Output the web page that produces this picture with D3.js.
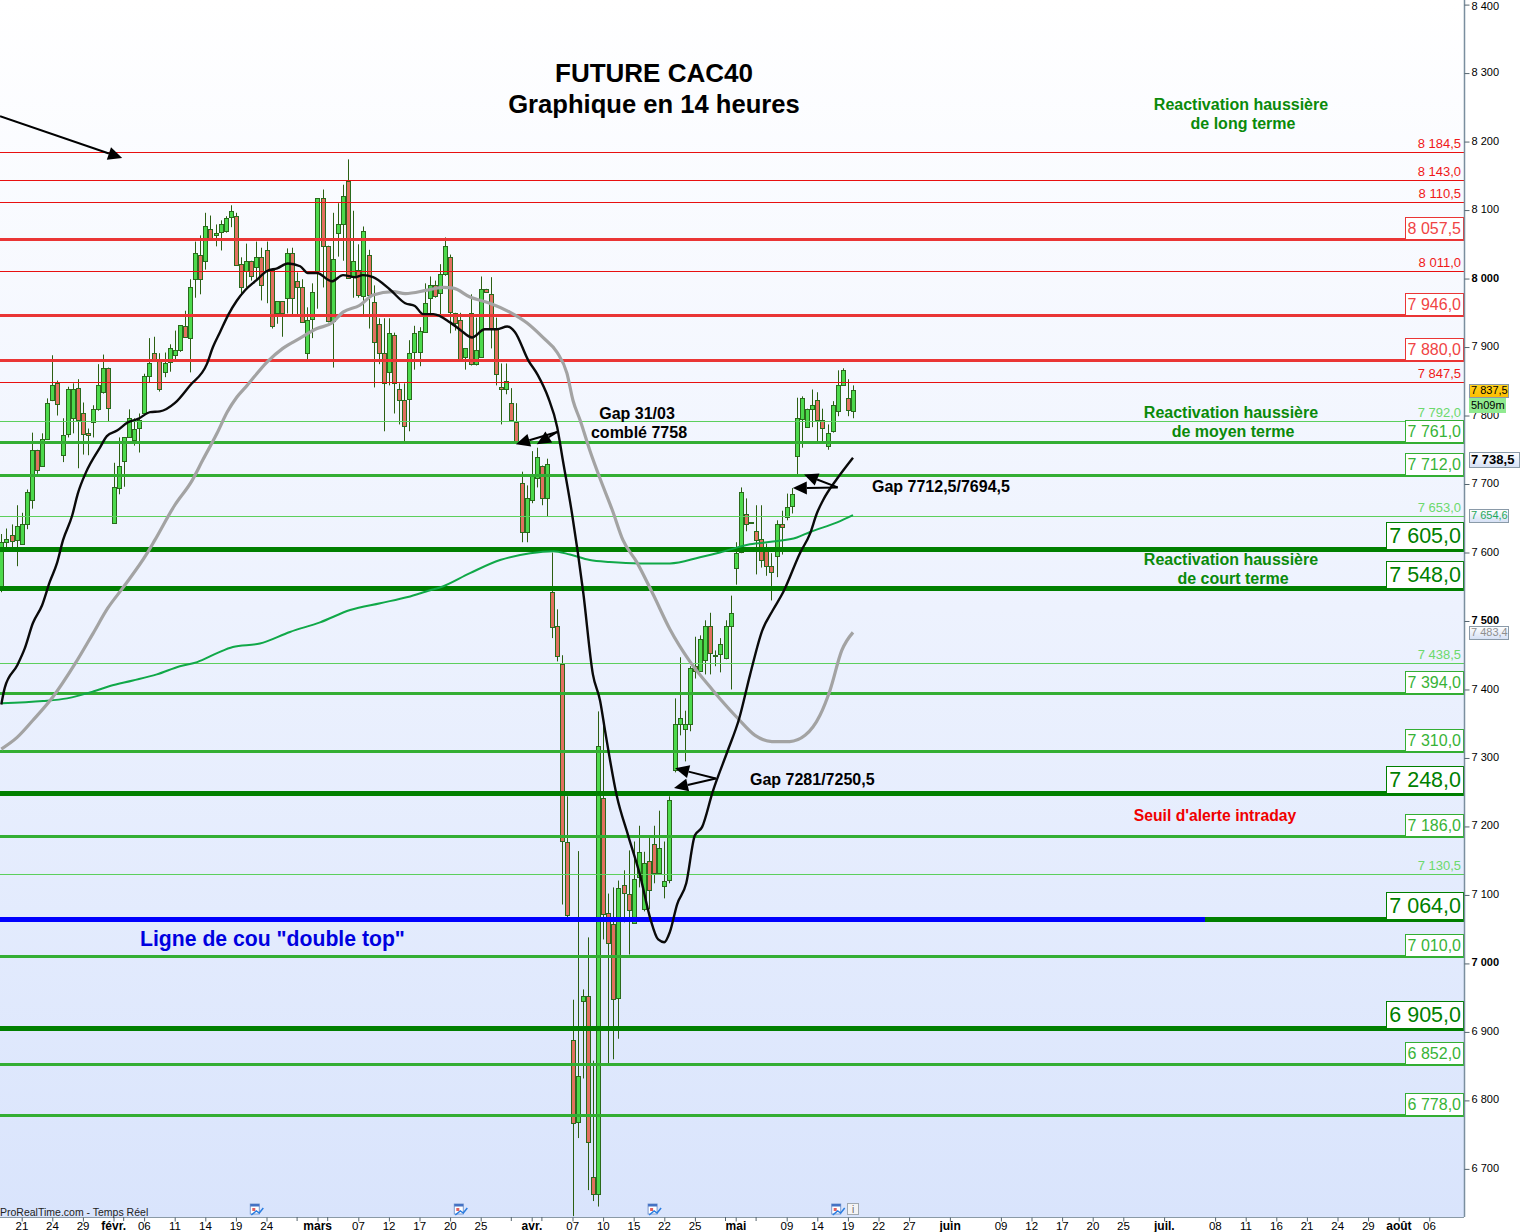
<!DOCTYPE html>
<html><head><meta charset="utf-8">
<script src="https://cdn.jsdelivr.net/npm/d3@7/dist/d3.min.js"></script>
<style>html,body{margin:0;padding:0;background:#fff}svg{display:block}text{font-family:"Liberation Sans",Arial,sans-serif}</style>
</head><body><div id="chart"></div>
<script>
const opens=[7549,7616,7626,7617,7613,7642,7676,7750,7726,7766,7823,7847,7743,7772,7796,7840,7804,7774,7790,7809,7834,7870,7642,7695,7733,7768,7765,7781,7804,7857,7891,7882,7864,7879,7889,7896,7930,7914,7999,8035,8025,8073,8064,8067,8070,8089,8092,8021,8012,8026,8018,8032,8042,8012,7949,7967,7972,8037,7996,7987,7892,7940,8010,8117,8048,7939,8067,8080,8142,8003,8012,7975,8034,7966,7933,7892,7863,7918,7838,7822,7825,7892,7892,7923,7971,7990,7978,8006,8031,7950,7940,7885,7949,7875,7885,7985,7977,7926,7841,7839,7818,7790,7702,7629,7676,7708,7726,7679,7543,7492,7437,7178,6888,6768,6946,6953,6688,6663,7241,7073,7057,6950,7114,7102,7060,7127,7079,7149,7174,7131,7113,7121,7283,7350,7342,7350,7435,7428,7444,7493,7451,7451,7447,7493,7578,7600,7656,7644,7632,7619,7602,7580,7594,7641,7653,7667,7740,7796,7784,7810,7823,7794,7756,7777,7807,7844,7825,7807];
const highs=[7627,7635,7641,7669,7658,7692,7775,7750,7774,7825,7888,7851,7796,7842,7847,7853,7819,7781,7815,7875,7889,7870,7731,7768,7768,7809,7796,7803,7861,7913,7915,7891,7892,7904,7924,7932,7953,7999,8054,8063,8096,8092,8079,8085,8091,8107,8096,8031,8051,8026,8054,8045,8054,8012,7967,7967,8044,8045,8009,7999,7958,7993,8117,8130,8048,8096,8110,8137,8174,8099,8050,8076,8042,7990,7942,7942,7942,7921,7847,7847,7910,7931,7929,7993,8003,7997,8021,8060,8035,7950,7950,7898,7977,7943,8003,7985,8002,7943,7876,7876,7840,7818,7718,7698,7748,7753,7727,7737,7600,7517,7450,7244,6947,7164,6962,7038,6858,7368,7349,7102,7111,7121,7136,7165,7178,7201,7163,7187,7201,7223,7178,7244,7387,7447,7369,7434,7477,7479,7501,7512,7457,7475,7501,7537,7615,7695,7679,7644,7669,7669,7613,7599,7647,7661,7686,7694,7826,7828,7810,7838,7834,7810,7787,7821,7866,7869,7853,7844];
const lows=[7542,7607,7607,7580,7612,7634,7664,7715,7726,7765,7821,7800,7732,7768,7774,7723,7743,7742,7768,7807,7832,7791,7642,7685,7696,7768,7756,7746,7803,7848,7880,7835,7856,7864,7880,7893,7914,7863,7972,7977,8013,8058,8047,8041,8067,8075,8019,7975,7987,7997,7999,7968,7964,7927,7934,7915,7949,7948,7946,7936,7880,7913,7956,7987,7936,7870,8032,8026,8000,7972,7972,7946,7927,7841,7875,7777,7844,7803,7787,7761,7777,7867,7872,7923,7949,7972,7946,8004,7920,7924,7883,7867,7873,7873,7885,7981,7898,7844,7787,7831,7793,7759,7615,7615,7672,7695,7669,7653,7475,7441,7086,7067,6631,6745,6832,6669,6653,6645,7035,6854,6860,6890,7060,7013,7060,7111,7076,7079,7117,7130,7095,7117,7279,7333,7295,7339,7416,7428,7422,7422,7434,7425,7444,7400,7553,7599,7631,7644,7568,7578,7566,7530,7564,7597,7647,7657,7712,7753,7784,7783,7762,7761,7750,7775,7799,7844,7799,7796];
const closes=[7616,7620,7617,7638,7642,7688,7749,7721,7766,7819,7845,7816,7772,7838,7838,7793,7774,7771,7809,7844,7869,7812,7695,7727,7768,7796,7781,7793,7858,7876,7882,7838,7877,7899,7896,7932,7914,7988,8037,8000,8076,8058,8067,8079,8089,8098,8021,7988,8026,8004,8032,7991,8013,7930,7967,7950,8037,7971,7987,7936,7940,7980,8117,8047,7939,8029,8080,8121,8000,8026,7975,8070,7975,7908,7891,7848,7920,7848,7822,7784,7892,7920,7923,7965,7990,7974,8006,8047,7950,7936,7883,7898,7875,7896,7985,7981,7926,7860,7838,7851,7793,7761,7631,7679,7714,7739,7679,7729,7492,7448,7178,7072,6767,6835,6953,6740,6663,7317,7072,7029,6947,7110,7102,7079,7124,7163,7146,7107,7131,7168,7121,7238,7350,7359,7350,7432,7428,7474,7493,7454,7451,7466,7493,7512,7600,7688,7642,7644,7619,7588,7580,7571,7641,7637,7667,7685,7796,7826,7810,7816,7794,7783,7775,7815,7845,7866,7807,7837.5];

const blackBars=[0,0.7,3.1,4.6,6.2,8,9.5,10.9,12.1,13.9,15,16.6,19.4,20.7,22.7,24.8,26.8,29.2,31.1,34,37,40.3,41.5,42.9,44.5,46.2,47.8,50.1,52.1,54.1,56.2,58.6,60.1,61.9,64.8,67,69.4,70.9,72.9,76.2,79.2,81.1,82.7,84.7,88,90,92.3,94.8,97.2,99.2,100.7,103.3,105.2,107.2,109,110.1,111.9,114.1,116,117.4,118.4,120.7,122.9,125.2,127.2,128.8,130,131.1,132.5,134.3,136,137.4,139.5,142.3,144.7,146.8,149.2,151.3,153.3,156.6,158.6,159.9,161.1,163.9,167];
const blackValues=[7378,7403,7435,7460,7497,7523,7557,7584,7618,7654,7686,7717,7754,7770,7778,7790,7795,7805,7806,7818,7844,7875,7900,7922,7947,7968,7983,7998,8011,8015,8022,8018,8008,8008,7996,8005,8002,8005,8002,7984,7964,7960,7948,7948,7936,7925,7914,7926,7926,7930,7922,7881,7859,7827,7783,7735,7657,7542,7422,7384,7339,7244,7187,7130,7067,7035,7031,7046,7086,7117,7187,7199,7251,7308,7358,7421,7486,7516,7542,7599,7628,7657,7676,7708,7738.5];
const greyBars=[0,3.1,6.2,10.1,14.5,18,20.9,23.9,28.6,30.1,34,37.4,39.5,42.3,44.3,46.2,48.2,52.1,55.2,58.6,61.9,64.8,67,70.3,72.9,76.8,79.2,83.5,86.6,88.6,91.9,95.8,99.7,103.1,106.2,109,110.9,112.1,113.5,115.4,117.4,119.8,121.9,124.6,127.8,131.1,135,139.5,144.4,147.8,151.1,154.6,157.6,160.5,162.5,164.8,167];
const greyValues=[7313,7330,7355,7389,7438,7482,7519,7549,7599,7618,7669,7705,7735,7774,7805,7827,7844,7878,7898,7913,7927,7935,7951,7961,7976,7981,7978,7983,7987,7986,7973,7964,7951,7935,7914,7892,7862,7822,7793,7749,7708,7662,7618,7586,7539,7488,7441,7399,7358,7333,7324,7324,7333,7362,7399,7457,7483.4];
const greenBars=[0,8.2,12.9,18,21.3,25.8,30.5,35,38.4,42.3,45.4,50.7,56.6,62.5,68.4,74.3,79.7,84.1,86,91.9,97.8,103.7,108.2,111.5,115.4,119.3,125.2,131.1,137,140.9,146.8,151.3,156,158.6,163.9,167];
const greenValues=[7380,7383,7387,7397,7405,7413,7422,7434,7440,7453,7462,7467,7484,7498,7516,7526,7535,7545,7549,7570,7589,7599,7602,7597,7589,7586,7584,7584,7593,7600,7612,7616,7622,7630,7644,7654.6];

const thinRed=[8184.5,8143,8110.5,8011,7847.5];
const mediumRed=[8057.5,7946,7880];
const thinGreen=[7792,7653,7438.5,7130.5];
const mediumGreen=[7761,7712,7394,7310,7186,7010,6852,6778];
const largeGreen=[7605,7548,7248,7064,6905];
const neckline=7064;

const priceTicks=d3.range(6700,8401,100);
const boldTicks=[8000,7500,7000];
const timeLabels=["21","24","29","févr.","06","11","14","19","24","mars","07","12","17","20","25","avr.","07","10","15","22","25","mai","09","14","19","22","27","juin","09","12","17","20","25","juil.","08","11","16","21","24","29","août","06"];
const timeBars=[4,10,16,22,28,34,40,46,52,62,70,76,82,88,94,104,112,118,124,130,136,144,154,160,166,172,178,186,196,202,208,214,220,228,238,244,250,256,262,268,274,280];
const boldLabels=["févr.","mars","avr.","mai","juin","juil.","août"];
const minorBars=[24,58,64,100,106,142,148];
const eventBars=[50,90,128,164];
const arrowsFrom=[[-0.25,8237],[109,7776],[109,7776],[164,7695],[164,7695],[140.1,7270],[140.1,7270]];
const arrowsTo=[[23.7,8176],[100.9,7758],[105,7758],[155.2,7694],[157.4,7714],[132.1,7285],[131.9,7256]];

const W=1520,H=1232,plotR=1464,plotB=1217;
const svg=d3.select("#chart").append("svg").attr("width",W).attr("height",H);
const defs=svg.append("defs");
const g=defs.append("linearGradient").attr("id","bg").attr("x1",0).attr("x2",0).attr("y1",0).attr("y2",1);
g.append("stop").attr("offset","0").attr("stop-color","#ffffff");
g.append("stop").attr("offset","0.5").attr("stop-color","#edf2fe");
g.append("stop").attr("offset","1").attr("stop-color","#d9e4fc");
const gb=defs.append("linearGradient").attr("id","box").attr("x1",0).attr("x2",0).attr("y1",0).attr("y2",1);
gb.append("stop").attr("offset","0").attr("stop-color","#ffffff");
gb.append("stop").attr("offset","1").attr("stop-color","#d5e0f5");
const gy=defs.append("linearGradient").attr("id","gold").attr("x1",0).attr("x2",0).attr("y1",0).attr("y2",1);
gy.append("stop").attr("offset","0").attr("stop-color","#ffd21e");
gy.append("stop").attr("offset","1").attr("stop-color","#fdbe00");

svg.append("rect").attr("width",plotR).attr("height",plotB).attr("fill","url(#bg)");

const x=d3.scaleLinear().domain([0,167]).range([1.3,853]);
const y=d3.scaleLinear().domain([8400,6800]).range([4.6,1100.4]);
const fr=d3.formatLocale({decimal:",",thousands:" ",grouping:[3],currency:["",""]});
const fmt1=fr.format(",.1f"),fmt0=fr.format(",d");
const px=v=>Math.round(x(v));
const ly=v=>Math.floor(y(v))+.5;

// Candles
const candles=svg.append("g").selectAll("g").data(d3.range(opens.length)).join("g");
candles.append("line").attr("x1",i=>px(i)+.5).attr("x2",i=>px(i)+.5)
 .attr("y1",i=>y(highs[i])).attr("y2",i=>y(lows[i])).attr("stroke","#2c5f12").attr("stroke-width",1);
candles.append("rect").attr("x",i=>px(i)-1.5).attr("width",4)
 .attr("y",i=>Math.round(y(Math.max(opens[i],closes[i])))+.5)
 .attr("height",i=>Math.max(1,Math.round(Math.abs(y(opens[i])-y(closes[i])))))
 .attr("fill",i=>closes[i]>=opens[i]?"#4cd94c":"#e2705f").attr("stroke","#2a6a1c").attr("stroke-width",1);

// Level lines
function levels(vals,color,w,x2){svg.append("g").selectAll("line").data(vals).join("line")
 .attr("x1",0).attr("x2",x2||plotR).attr("y1",d=>ly(d)).attr("y2",d=>ly(d)).attr("stroke",color).attr("stroke-width",w);}
levels(thinRed,"#e81010",1);
levels(thinGreen,"#5ccf5c",1);
levels(mediumRed,"#ea3535",3);
levels(mediumGreen,"#33ae33",3);
levels(largeGreen,"#007f00",5);
levels([neckline],"#0000ff",5,1205);

// Moving averages
function ma(bars,vals,color,w){svg.append("path").datum(bars.map((b,i)=>[b,vals[i]]))
 .attr("d",d3.line().x(d=>x(d[0])).y(d=>y(d[1])).curve(d3.curveMonotoneX))
 .attr("fill","none").attr("stroke",color).attr("stroke-width",w);}
ma(greenBars,greenValues,"#10a848",2);
ma(greyBars,greyValues,"#a3a3a3",3.2);
ma(blackBars,blackValues,"#0a0a0a",2.4);

// Level labels
function plain(vals,color){svg.append("g").selectAll("text").data(vals).join("text")
 .attr("x",1461).attr("y",d=>ly(d)-5).attr("text-anchor","end").attr("font-size",13).attr("fill",color).text(d=>fmt1(d));}
plain(thinRed,"#f01818");
plain(thinGreen,"#6cd96c");
function boxed(vals,color,textColor,left,h,fs,off){
 const gg=svg.append("g").selectAll("g").data(vals).join("g");
 gg.append("rect").attr("x",left+.5).attr("y",d=>Math.floor(y(d))-h+.5).attr("width",plotR-left-1).attr("height",h)
   .attr("fill","#fff").attr("stroke",color).attr("stroke-width",1);
 gg.append("text").attr("x",1461).attr("y",d=>ly(d)-off).attr("text-anchor","end").attr("font-size",fs).attr("fill",textColor).text(d=>fmt1(d));
}
boxed(mediumRed,"#ea3535","#f04444",1405,22,16,6);
boxed(mediumGreen,"#33ae33","#37b337",1405,22,16,6);
boxed(largeGreen,"#007f00","#007f00",1386,27,21.5,7);

// Axes
const rightAxis=d3.axisRight(y).tickValues(priceTicks).tickSize(5).tickPadding(2).tickFormat(d=>fmt0(d));
const ra=svg.append("g").attr("transform",`translate(${plotR+.5},0)`).call(rightAxis);
ra.select(".domain").attr("d",`M0,0V${plotB}`).attr("stroke","#7a8e9e").attr("stroke-width",1.5);
ra.selectAll(".tick line").attr("stroke","#54646e");
ra.selectAll(".tick text").attr("font-size",11).attr("font-family",'"Liberation Sans"').attr("fill","#000").attr("y",d=>d===8400?1.8:-1)
 .attr("font-weight",d=>boldTicks.includes(d)?"bold":"normal");

const bottomAxis=d3.axisBottom(x).tickValues(timeBars).tickSize(4).tickPadding(0).tickFormat((d,i)=>timeLabels[i]);
const ba=svg.append("g").attr("transform",`translate(0,${plotB+.5})`).call(bottomAxis);
ba.select(".domain").attr("d",`M0,0H${plotR}`).attr("stroke","#8a9aa6").attr("stroke-width",1);
ba.selectAll(".tick line").attr("stroke","#54646e");
ba.selectAll(".tick text").attr("font-family",'"Liberation Sans"').attr("fill","#000").attr("dy","8px").attr("dx","-0.3")
 .attr("font-size",(d,i)=>boldLabels.includes(timeLabels[i])?12:11.5)
 .attr("font-weight",(d,i)=>boldLabels.includes(timeLabels[i])?"bold":"normal");
svg.append("g").selectAll("line").data(minorBars).join("line").attr("x1",d=>x(d)).attr("x2",d=>x(d))
 .attr("y1",plotB).attr("y2",plotB+4).attr("stroke","#54646e");

// Arrows
arrowsFrom.forEach((a,i)=>{
 const x1=x(a[0]),y1=y(a[1]),x2=x(arrowsTo[i][0]),y2=y(arrowsTo[i][1]);
 const ang=Math.atan2(y2-y1,x2-x1),L=14,w=6.5;
 const bx=x2-L*Math.cos(ang),by=y2-L*Math.sin(ang);
 svg.append("line").attr("x1",x1).attr("y1",y1).attr("x2",bx).attr("y2",by).attr("stroke","#000").attr("stroke-width",2);
 svg.append("polygon").attr("points",[[x2,y2],[bx-w*Math.sin(ang),by+w*Math.cos(ang)],[bx+w*Math.sin(ang),by-w*Math.cos(ang)]].map(p=>p.join(",")).join(" ")).attr("fill","#000");
});

// Text annotations
const notes=[
 ["FUTURE CAC40",654,82,26,"#000","middle"],
 ["Graphique en 14 heures",654,113,25.6,"#000","middle"],
 ["Reactivation haussière",1241,110,16,"#0a8a0a","middle"],
 ["de long terme",1243,129,16,"#0a8a0a","middle"],
 ["Reactivation haussière",1231,418,16,"#0a8a0a","middle"],
 ["de moyen terme",1233,437,16,"#0a8a0a","middle"],
 ["Reactivation haussière",1231,565,16,"#0a8a0a","middle"],
 ["de court terme",1233,584,16,"#0a8a0a","middle"],
 ["Gap 31/03",637,419,16,"#000","middle"],
 ["comblé 7758",639,438,16,"#000","middle"],
 ["Gap 7712,5/7694,5",872,492,16,"#000","start"],
 ["Gap 7281/7250,5",750,785,16,"#000","start"],
 ["Seuil d'alerte intraday",1215,821,15.7,"#f00000","middle"],
 ["Ligne de cou \"double top\"",140,946,21.2,"#0000e0","start"]
];
svg.append("g").selectAll("text").data(notes).join("text").attr("x",d=>d[1]).attr("y",d=>d[2])
 .attr("font-size",d=>d[3]).attr("fill",d=>d[4]).attr("text-anchor",d=>d[5]).attr("font-weight","bold").text(d=>d[0]);
svg.append("text").attr("x",0).attr("y",1216).attr("font-size",10.5).attr("fill","#222").text("ProRealTime.com - Temps Réel");

// Price tags at right
function tag(x0,y0,w,h,fill,txt,col,fs,bold,stroke){
 svg.append("rect").attr("x",x0+.5).attr("y",Math.round(y0)+.5).attr("width",w).attr("height",h).attr("fill",fill).attr("stroke",stroke||"#8a9aa8");
 svg.append("text").attr("x",x0+2).attr("y",Math.round(y0)+h-3.5).attr("font-size",fs).attr("fill",col).attr("font-weight",bold?"bold":"normal").text(txt);
}
tag(1469,384,39,13,"url(#gold)",fmt1(closes[167]),"#000",11);
tag(1469,398,36,14,"#90ea90","5h09m","#000",11,false,"#90ea90");
tag(1469,452,50,15,"url(#box)",fmt1(blackValues[84]),"#000",13,true);
tag(1469,y(greenValues[35])-6,39,13,"url(#box)",fmt1(greenValues[35]),"#1fa85a",11);
tag(1469,y(greyValues[56])-6,39,13,"url(#box)",fmt1(greyValues[56]),"#8f8f8f",11);

// Event icons
const ic=svg.append("g").selectAll("g").data(eventBars).join("g").attr("transform",d=>`translate(${x(d)-6},1204)`);
ic.append("rect").attr("width",9).attr("height",10).attr("fill","#fff").attr("stroke","#7c9bd0");
ic.append("rect").attr("width",9).attr("height",2.5).attr("fill","#4472c4");
ic.append("rect").attr("x",2).attr("y",4).attr("width",3).attr("height",3).attr("fill","#e06060");
ic.append("path").attr("d","M1,11 L6,7 L9,9 L13,4").attr("fill","none").attr("stroke","#2a7de1").attr("stroke-width",1.5);
svg.append("rect").attr("x",847.5).attr("y",1203.5).attr("width",11).attr("height",11).attr("fill","#f4f4f4").attr("stroke","#a0a8b0");
svg.append("text").attr("x",853).attr("y",1213).attr("text-anchor","middle").attr("font-size",10).attr("fill","#666").text("i");
</script></body></html>
